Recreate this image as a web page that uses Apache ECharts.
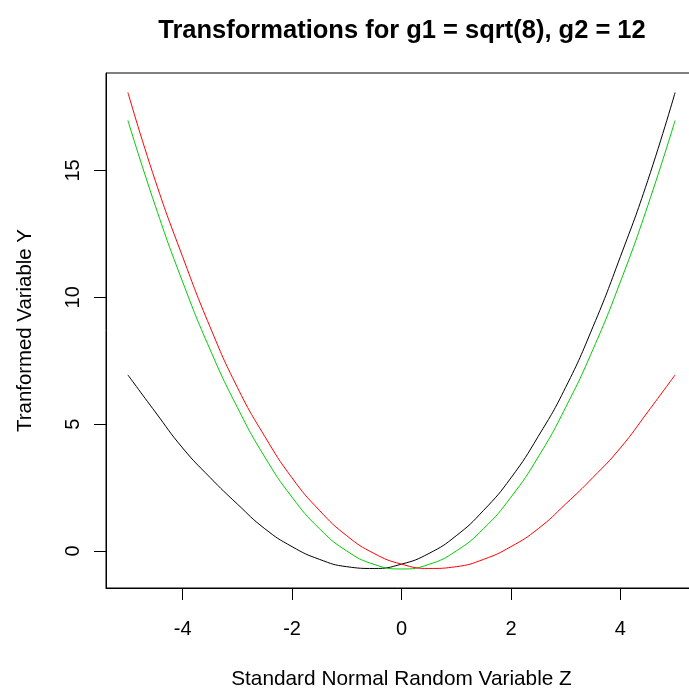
<!DOCTYPE html>
<html>
<head>
<meta charset="utf-8">
<script src="https://cdn.jsdelivr.net/npm/echarts@6/dist/echarts.min.js"></script>
<style>html,body{margin:0;padding:0;background:#fff;}#c{width:689px;height:691px;}</style>
</head>
<body>
<div id="c"></div>
<script>
var zValues = [-5,-4.5,-4,-3.5,-3,-2.5,-2,-1.5,-1,-0.5,0,0.5,1,1.5,2,2.5,3,3.5,4,4.5,5];
var blackY = [6.94,5.48,4.06,2.9,1.85,0.88,0.17,-0.33,-0.62,-0.69,-0.52,-0.1,0.6,1.6,2.88,4.52,6.45,8.84,11.6,14.6,18.07];
var greenY = [16.97,13.61,10.61,7.95,5.66,3.71,2.12,0.88,0,-0.53,-0.71,-0.53,0,0.88,2.12,3.71,5.66,7.95,10.61,13.61,16.97];
var redY = [18.07,14.6,11.6,8.84,6.45,4.52,2.88,1.6,0.6,-0.1,-0.52,-0.69,-0.62,-0.33,0.17,0.88,1.85,2.9,4.06,5.48,6.94];
var xTicks = [-4,-2,0,2,4];
var yTicks = [0,5,10,15];
var titleText = 'Transformations for g1 = sqrt(8), g2 = 12';
var xName = 'Standard Normal Random Variable Z';
var yName = 'Tranformed Variable Y';

function pairs(ys){ return zValues.map(function(z,i){ return [z, ys[i]]; }); }

var font = 'Liberation Sans, Arial, sans-serif';
var chart = echarts.init(document.getElementById('c'), null, {renderer:'canvas'});
chart.setOption({
  animation: false,
  backgroundColor: '#fff',
  title: {
    text: titleText, left: 397, top: 13, textAlign: 'center',
    textStyle: {fontFamily: font, fontSize: 25.5, fontWeight: 'bold', color: '#000'}
  },
  grid: {left: 106, top: 73, width: 591, height: 515, show: true, borderColor: '#000', borderWidth: 1, backgroundColor: 'transparent', containLabel: false, outerBoundsMode: 'none'},
  xAxis: {
    type: 'value', min: -5.4, max: 5.4,
    name: xName, nameLocation: 'middle', nameGap: 81,
    nameTextStyle: {fontFamily: font, fontSize: 20.8, color: '#000'},
    axisLine: {show: true, onZero: false, lineStyle: {color: '#000', width: 1}},
    axisTick: {show: true, length: 12, customValues: xTicks, lineStyle: {color: '#000', width: 1}},
    axisLabel: {customValues: xTicks, margin: 31, fontFamily: font, fontSize: 20, color: '#000'},
    splitLine: {show: false}
  },
  yAxis: {
    type: 'value', min: -1.46, max: 18.84,
    name: yName, nameLocation: 'middle', nameGap: 71,
    nameTextStyle: {fontFamily: font, fontSize: 20.4, color: '#000'},
    axisLine: {show: true, onZero: false, lineStyle: {color: '#000', width: 1}},
    axisTick: {show: true, length: 12, customValues: yTicks, lineStyle: {color: '#000', width: 1}},
    axisLabel: {customValues: yTicks, rotate: 90, margin: 22.5, fontFamily: font, fontSize: 20, color: '#000'},
    splitLine: {show: false}
  },
  series: [
    {type: 'line', data: pairs(blackY), smooth: true, showSymbol: false, lineStyle: {color: '#000000', width: 1}, itemStyle: {color: '#000'}},
    {type: 'line', data: pairs(greenY), smooth: true, showSymbol: false, lineStyle: {color: '#00CD00', width: 1}, itemStyle: {color: '#00CD00'}},
    {type: 'line', data: pairs(redY), smooth: true, showSymbol: false, lineStyle: {color: '#FF0000', width: 1}, itemStyle: {color: '#FF0000'}}
  ]
});
</script>
</body>
</html>
